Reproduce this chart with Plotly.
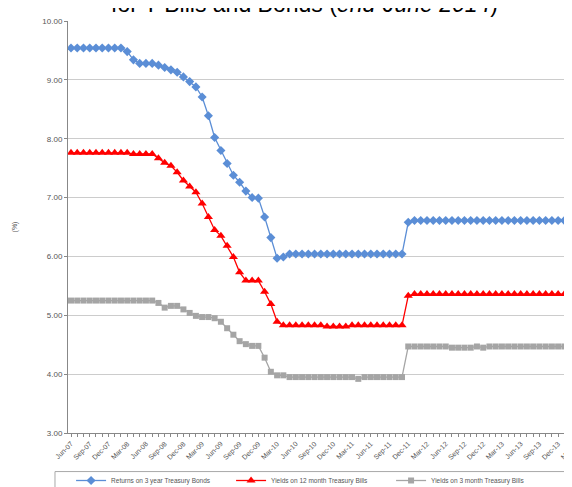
import plotly.graph_objects as go

# -------------------------------
# DATA (monthly, Jun-07 .. Jun-14)
# -------------------------------
months = ["Jun-07", "Jul-07", "Aug-07", "Sep-07", "Oct-07", "Nov-07", "Dec-07",
          "Jan-08", "Feb-08", "Mar-08", "Apr-08", "May-08", "Jun-08", "Jul-08", "Aug-08", "Sep-08", "Oct-08", "Nov-08", "Dec-08",
          "Jan-09", "Feb-09", "Mar-09", "Apr-09", "May-09", "Jun-09", "Jul-09", "Aug-09", "Sep-09", "Oct-09", "Nov-09", "Dec-09",
          "Jan-10", "Feb-10", "Mar-10", "Apr-10", "May-10", "Jun-10", "Jul-10", "Aug-10", "Sep-10", "Oct-10", "Nov-10", "Dec-10",
          "Jan-11", "Feb-11", "Mar-11", "Apr-11", "May-11", "Jun-11", "Jul-11", "Aug-11", "Sep-11", "Oct-11", "Nov-11", "Dec-11",
          "Jan-12", "Feb-12", "Mar-12", "Apr-12", "May-12", "Jun-12", "Jul-12", "Aug-12", "Sep-12", "Oct-12", "Nov-12", "Dec-12",
          "Jan-13", "Feb-13", "Mar-13", "Apr-13", "May-13", "Jun-13", "Jul-13", "Aug-13", "Sep-13", "Oct-13", "Nov-13", "Dec-13",
          "Jan-14", "Feb-14", "Mar-14", "Apr-14", "May-14", "Jun-14"]

tick_labels = ["Jun-07", "Sep-07", "Dec-07", "Mar-08", "Jun-08", "Sep-08", "Dec-08",
               "Mar-09", "Jun-09", "Sep-09", "Dec-09", "Mar-10", "Jun-10", "Sep-10",
               "Dec-10", "Mar-11", "Jun-11", "Sep-11", "Dec-11", "Mar-12", "Jun-12",
               "Sep-12", "Dec-12", "Mar-13", "Jun-13", "Sep-13", "Dec-13", "Mar-14"]

bonds_3y = [9.54, 9.54, 9.54, 9.54, 9.54, 9.54, 9.54, 9.54, 9.54, 9.48,
            9.34, 9.28, 9.28, 9.28, 9.25, 9.21, 9.17, 9.13, 9.05, 8.97,
            8.88, 8.71, 8.39, 8.02, 7.80, 7.58, 7.38, 7.26, 7.11, 7.00,
            6.99, 6.67, 6.32, 5.97, 5.99, 6.04, 6.04, 6.04, 6.04, 6.04,
            6.04, 6.04, 6.04, 6.04, 6.04, 6.04, 6.04, 6.04, 6.04, 6.04,
            6.04, 6.04, 6.04, 6.04, 6.58, 6.61, 6.61, 6.61, 6.61, 6.61,
            6.61, 6.61, 6.61, 6.61, 6.61, 6.61, 6.61, 6.61, 6.61, 6.61,
            6.61, 6.61, 6.61, 6.61, 6.61, 6.61, 6.61, 6.61, 6.61, 6.61,
            6.61, 6.61, 6.61, 6.61, 6.61]

bills_12m = [7.76, 7.76, 7.76, 7.76, 7.76, 7.76, 7.76, 7.76, 7.76, 7.76,
             7.74, 7.74, 7.74, 7.74, 7.67, 7.59, 7.54, 7.43, 7.29, 7.19,
             7.09, 6.90, 6.67, 6.45, 6.35, 6.18, 5.99, 5.73, 5.59, 5.59,
             5.59, 5.40, 5.19, 4.89, 4.83, 4.83, 4.83, 4.83, 4.83, 4.83,
             4.83, 4.81, 4.81, 4.81, 4.81, 4.83, 4.83, 4.83, 4.83, 4.83,
             4.83, 4.83, 4.83, 4.83, 5.33, 5.36, 5.36, 5.36, 5.36, 5.36,
             5.36, 5.36, 5.36, 5.36, 5.36, 5.36, 5.36, 5.36, 5.36, 5.36,
             5.36, 5.36, 5.36, 5.36, 5.36, 5.36, 5.36, 5.36, 5.36, 5.36,
             5.36, 5.36, 5.36, 5.36, 5.36]

bills_3m = [5.25, 5.25, 5.25, 5.25, 5.25, 5.25, 5.25, 5.25, 5.25, 5.25,
            5.25, 5.25, 5.25, 5.25, 5.21, 5.13, 5.16, 5.16, 5.10, 5.04,
            4.99, 4.97, 4.97, 4.95, 4.89, 4.78, 4.67, 4.56, 4.51, 4.48,
            4.48, 4.28, 4.04, 3.98, 3.98, 3.95, 3.95, 3.95, 3.95, 3.95,
            3.95, 3.95, 3.95, 3.95, 3.95, 3.95, 3.92, 3.95, 3.95, 3.95,
            3.95, 3.95, 3.95, 3.95, 4.47, 4.47, 4.47, 4.47, 4.47, 4.47,
            4.47, 4.45, 4.45, 4.45, 4.45, 4.47, 4.45, 4.47, 4.47, 4.47,
            4.47, 4.47, 4.47, 4.47, 4.47, 4.47, 4.47, 4.47, 4.47, 4.47,
            4.47, 4.47, 4.47, 4.47, 4.47]

x = list(range(len(months)))
tick_pos = [months.index(t) for t in tick_labels]

# -------------------------------
# TRACES
# -------------------------------
fig = go.Figure()

fig.add_trace(go.Scatter(
    x=x, y=bonds_3y, customdata=months, mode="lines+markers",
    name="Returns on 3 year Treasury Bonds",
    line=dict(color="#5B8ED6", width=1.3),
    marker=dict(symbol="diamond", size=7, color="#5B8ED6")
))
fig.add_trace(go.Scatter(
    x=x, y=bills_12m, customdata=months, mode="lines+markers",
    name="Yields on 12 month Treasury Bills",
    line=dict(color="#FF0000", width=1.3),
    marker=dict(symbol="triangle-up", size=8, color="#FF0000")
))
fig.add_trace(go.Scatter(
    x=x, y=bills_3m, customdata=months, mode="lines+markers",
    name="Yields on 3 month Treasury Bills",
    line=dict(color="#A5A5A5", width=1.3),
    marker=dict(symbol="square", size=6, color="#A5A5A5")
))

# -------------------------------
# LAYOUT
# -------------------------------
fig.update_layout(
    width=572, height=487,
    margin=dict(l=60, r=0, t=13, b=54),
    plot_bgcolor="white", paper_bgcolor="white",
    font=dict(family="Liberation Sans, Arial, sans-serif", color="#555555"),
    showlegend=True,
    legend=dict(
        orientation="h", x=0.006, xanchor="left", y=-0.116, yanchor="middle",
        font=dict(size=6.5, color="#555555"),
        entrywidth=115, entrywidthmode="pixels",
        bgcolor="rgba(0,0,0,0)", itemclick=False
    ),
    xaxis=dict(
        range=[-0.48, 81.5],
        tickmode="array", tickvals=tick_pos, ticktext=tick_labels,
        tickangle=-45, tickfont=dict(size=7, color="#555555"),
        ticklabeloverflow="allow",
        ticks="outside", ticklen=3, tickcolor="#888888",
        showline=True, linecolor="#888888", linewidth=1,
        showgrid=False, zeroline=False,
        minor=dict(tickmode="linear", tick0=0, dtick=1, ticks="outside",
                   ticklen=3, tickcolor="#888888", showgrid=False)
    ),
    yaxis=dict(
        range=[3, 10], dtick=1, tickformat=".2f",
        tickfont=dict(size=8, color="#555555"),
        ticks="outside", ticklen=3, tickcolor="#888888",
        showline=True, linecolor="#888888", linewidth=1,
        gridcolor="#CCCCCC", gridwidth=1, zeroline=False,
        title=dict(text="(%)", font=dict(size=7, color="#555555"), standoff=23)
    ),
    shapes=[dict(
        type="rect", xref="paper", yref="paper",
        x0=-0.0254, x1=1.2, y0=-0.0936, y1=-0.35,
        line=dict(color="#A8A8A8", width=1), fillcolor="rgba(0,0,0,0)"
    )],
    annotations=[dict(
        text="for T-Bills and Bonds (<i>end-June 2014</i>)",
        xref="paper", yref="paper", x=0.462, y=1.041,
        xanchor="center", yanchor="middle", showarrow=False,
        font=dict(size=23, color="black", family="Liberation Sans, Arial, sans-serif")
    )]
)

fig.write_html("out.html")
